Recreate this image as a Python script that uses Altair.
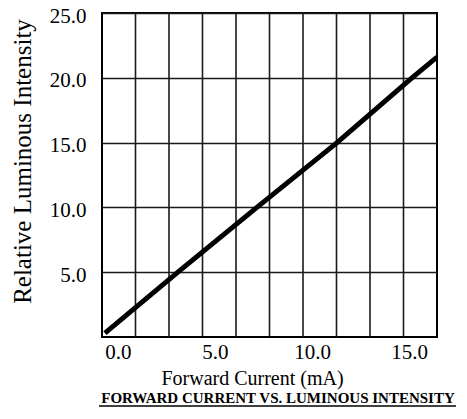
import altair as alt
import pandas as pd

# ---- data ----
current = [-0.67, 3.09, 7.16, 11.29, 15.15, 16.44]
intensity = [0.3, 5.0, 10.0, 15.0, 20.0, 21.6]
x_ticks = [0, 5, 10, 15]
y_ticks = [5, 10, 15, 20, 25]
grid_columns = [1, 2, 3, 4, 5, 6, 7, 8, 9]
x_domain = [-0.82, 16.44]
y_domain = [0, 25]
chart_title = ["FORWARD CURRENT VS. LUMINOUS INTENSITY"]

FONT = "Liberation Serif"
W, H = 335, 324

line_df = pd.DataFrame({"current": current, "intensity": intensity})
grid_df = pd.DataFrame({"col": grid_columns})
title_df = pd.DataFrame({"label": chart_title})

grid = alt.Chart(grid_df).mark_rule(color="#1a1a1a", strokeWidth=1.6).encode(
    x=alt.X("col:Q", scale=alt.Scale(domain=[0, 10], nice=False, zero=False), axis=None)
)

line = alt.Chart(line_df).mark_line(color="black", strokeWidth=5, clip=True).encode(
    x=alt.X(
        "current:Q",
        scale=alt.Scale(domain=x_domain, nice=False, zero=False),
        axis=alt.Axis(
            values=x_ticks, format=".1f", title="Forward Current (mA)",
            grid=False, ticks=False, domain=False,
            labelFont=FONT, labelFontSize=21, labelColor="black",
            labelPadding=4, labelFlush=False,
            titleFont=FONT, titleFontSize=20, titleFontWeight="normal",
            titleColor="black", titleX=150, titleY=47,
            titleBaseline="alphabetic", titleAlign="center",
        ),
    ),
    y=alt.Y(
        "intensity:Q",
        scale=alt.Scale(domain=y_domain, nice=False, zero=True),
        axis=alt.Axis(
            values=y_ticks, format=".1f", title="Relative Luminous Intensity",
            grid=True, gridColor="#1a1a1a", gridWidth=1.6,
            ticks=False, domain=False,
            labelFont=FONT, labelFontSize=21, labelColor="black",
            labelPadding=16, labelOffset=3, labelFlush=False,
            titleFont=FONT, titleFontSize=25, titleFontWeight="normal",
            titleColor="black", titleX=-72, titleY=148,
            titleBaseline="alphabetic", titleAlign="center",
        ),
    ),
)

title = alt.Chart(title_df).mark_text(
    font=FONT, fontSize=15, fontWeight="bold", color="black",
    align="center", baseline="alphabetic",
).encode(text="label:N", x=alt.value(176), y=alt.value(390))

underline = alt.Chart(title_df).mark_rule(color="black", strokeWidth=1.5).encode(
    x=alt.value(-3), x2=alt.value(354), y=alt.value(393)
)

chart = (
    alt.layer(grid, line, title, underline)
    .resolve_scale(x="independent")
    .properties(
        width=W, height=H,
        autosize=alt.AutoSizeParams(type="none"),
        padding={"left": 94, "top": 5, "right": 20, "bottom": 72},
    )
    .configure_view(stroke="black", strokeWidth=2)
)

chart.save("out.html", embed_options={"renderer": "svg", "actions": False})
